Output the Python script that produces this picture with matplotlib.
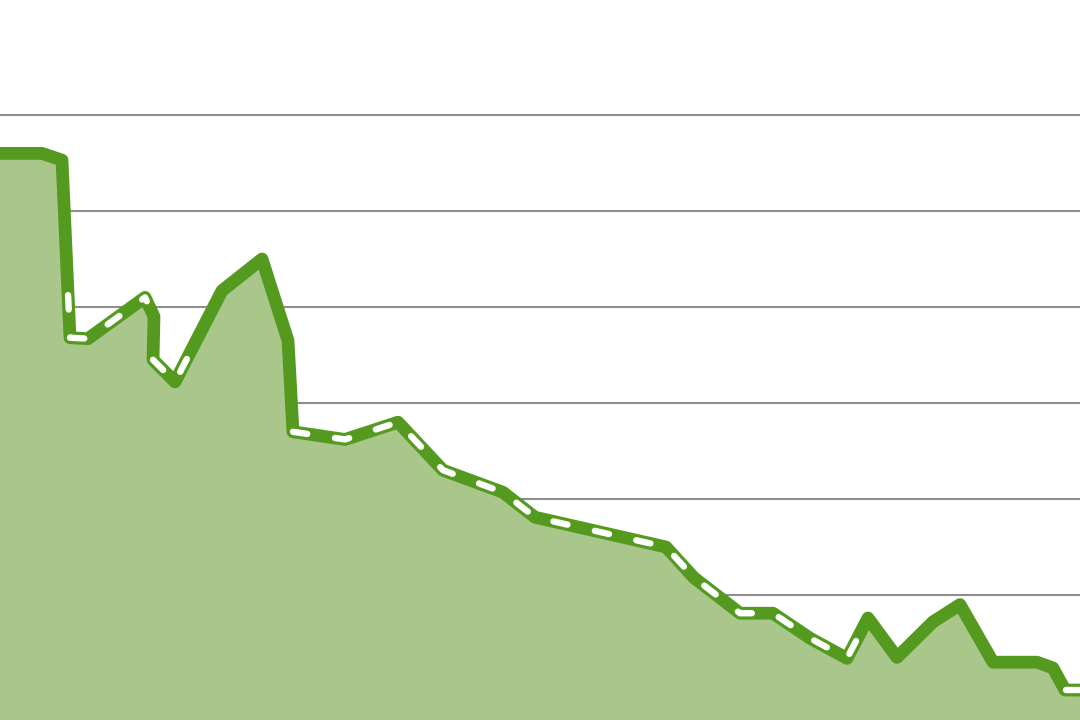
import numpy as np
import matplotlib
matplotlib.use("Agg")
import matplotlib.pyplot as plt

plt.rcParams['lines.scale_dashes'] = False

# Data (x positions along the time axis, y values)
x_vals = [0, 42, 62, 70, 88, 145, 154, 153, 175, 222, 262, 288, 293, 345, 398,
          443, 503, 535, 666, 694, 740, 773, 810, 847, 868, 897, 933, 960, 993,
          1037, 1053, 1065, 1080]
y_vals = [6.60, 6.60, 6.53, 4.68, 4.67, 5.10, 4.90, 4.45, 4.22, 5.17, 5.50,
          4.65, 3.70, 3.62, 3.80, 3.30, 3.07, 2.81, 2.50, 2.18, 1.81, 1.81,
          1.55, 1.34, 1.76, 1.35, 1.72, 1.90, 1.30, 1.30, 1.24, 1.01, 1.01]

# stretches of the series (fractional point index) drawn with a dashed overlay
dash_zones = [(2.76, 5.2), (7.0, 8.35), (12.0, 23.8), (31.05, 32.0)]

grid_values = [1, 2, 3, 4, 5, 6, 7]

LINE = "#549a1f"
FILL = "#a9c78a"
GRID = "#8e8e8e"

fig = plt.figure(figsize=(10.8, 7.2), dpi=100)
ax = fig.add_axes([0, 0, 1, 1])
ax.set_xlim(0, 1080)
ax.set_ylim(67 / 96, 787 / 96)

x = np.array(x_vals, dtype=float)
y = np.array(y_vals, dtype=float)

ax.fill_between(x, y, 0, color=FILL, linewidth=0, zorder=2)
ax.plot(x, y, color=LINE, linewidth=9.2, solid_joinstyle='round',
        solid_capstyle='round', zorder=3)


def point_at(p):
    i = int(np.floor(p))
    if i >= len(x) - 1:
        return x[-1], y[-1]
    t = p - i
    return x[i] + (x[i + 1] - x[i]) * t, y[i] + (y[i + 1] - y[i]) * t


def sub_path(p0, p1):
    xs, ys = [], []
    a = point_at(p0)
    xs.append(a[0]); ys.append(a[1])
    k = int(np.floor(p0)) + 1
    while k < p1:
        xs.append(x[k]); ys.append(y[k])
        k += 1
    b = point_at(p1)
    xs.append(b[0]); ys.append(b[1])
    return xs, ys


for (z0, z1) in dash_zones:
    zx, zy = sub_path(z0, z1)
    ax.plot(zx, zy, color="white", linewidth=4.6, dashes=(10.4, 20.2),
            dash_capstyle='round', dash_joinstyle='round', zorder=4)

ax.set_yticks(grid_values)
ax.set_xticks([])
ax.yaxis.grid(True, color=GRID, linewidth=1.5)
ax.set_axisbelow(True)
ax.tick_params(axis='y', length=0, labelleft=False)
for s in ax.spines.values():
    s.set_visible(False)

fig.savefig("out.png", dpi=100)
